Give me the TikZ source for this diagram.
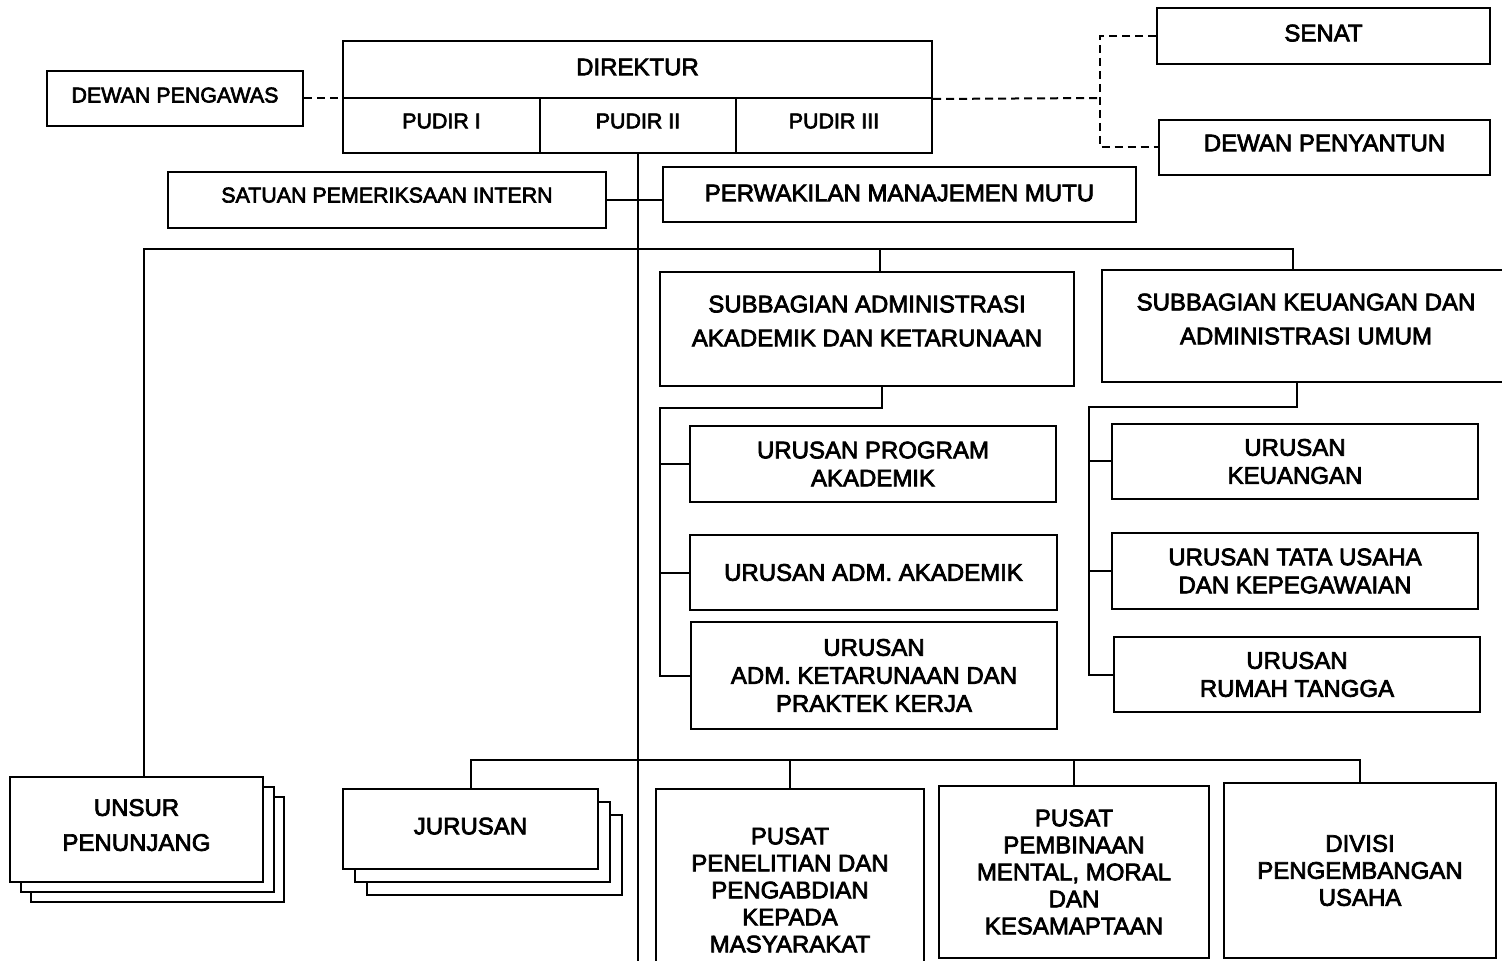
\documentclass[tikz,border=0pt]{standalone}
\usepackage{fontspec}
\setmainfont{Liberation Sans}[FakeBold=3]
\usetikzlibrary{calc}

\begin{document}
\begin{tikzpicture}[x=0.5pt, y=-0.5pt, line width=1pt,
  box/.style={draw, fill=white, inner sep=0pt, align=center, font=\fontsize{12}{14}\selectfont},
  smallbox/.style={box, font=\fontsize{10.7}{13}\selectfont},
  lift/.style={text depth=#1},
  dashline/.style={dash pattern=on 4pt off 2.5pt}]
  \useasboundingbox (0,0) rectangle (1502,961);
  \clip (0,0) rectangle (1502,961);
  % pimpinan
  \node[box, minimum width=294.5pt, minimum height=28.5pt, lift=2.5pt] (dir) at (637.5,69.5) {DIREKTUR};
  \node[smallbox, minimum width=98.5pt, minimum height=27.5pt, lift=4.5pt] (p1) at (441.5,125.5) {PUDIR I};
  \node[smallbox, minimum width=98pt, minimum height=27.5pt, lift=4.5pt] (p2) at (638,125.5) {PUDIR II};
  \node[smallbox, minimum width=98pt, minimum height=27.5pt, lift=4.5pt] (p3) at (834,125.5) {PUDIR III};
  \node[smallbox, minimum width=128pt, minimum height=27.5pt, lift=3.5pt] (dp) at (175,98.5) {DEWAN PENGAWAS};
  \node[box, minimum width=166.5pt, minimum height=28pt, lift=3pt] (senat) at (1323.5,36) {SENAT};
  \node[box, minimum width=165.5pt, minimum height=27.5pt, lift=4.5pt] (penyantun) at (1324.5,147.5) {DEWAN PENYANTUN};
  \node[smallbox, minimum width=219pt, minimum height=28pt, lift=5pt] (satuan) at (387,200) {SATUAN PEMERIKSAAN INTERN};
  \node[box, minimum width=236.5pt, minimum height=27.5pt, lift=1.5pt] (pmm) at (899.5,194.5) {PERWAKILAN MANAJEMEN MUTU};
  % subbagian
  \node[box, font=\fontsize{12}{17}\selectfont, minimum width=207pt, minimum height=57pt, lift=8pt] (subadm) at (867,329)
    {SUBBAGIAN ADMINISTRASI\\AKADEMIK DAN KETARUNAAN};
  \node[box, font=\fontsize{12}{17}\selectfont, minimum width=204pt, minimum height=56pt, lift=7pt] (subkeu) at (1306,326)
    {SUBBAGIAN KEUANGAN DAN\\ADMINISTRASI UMUM};
  % urusan
  \node[box, minimum width=183pt, minimum height=38pt] (upa) at (873,464) {URUSAN PROGRAM\\AKADEMIK};
  \node[box, minimum width=183.5pt, minimum height=37.5pt] (uaa) at (873.5,572.5) {URUSAN ADM. AKADEMIK};
  \node[box, minimum width=183pt, minimum height=53.5pt] (uak) at (874,675.5) {URUSAN\\ADM. KETARUNAAN DAN\\PRAKTEK KERJA};
  \node[box, minimum width=183pt, minimum height=37.5pt] (ukeu) at (1295,461.5) {URUSAN\\KEUANGAN};
  \node[box, minimum width=183pt, minimum height=38pt] (utu) at (1295,571) {URUSAN TATA USAHA\\DAN KEPEGAWAIAN};
  \node[box, minimum width=183pt, minimum height=37.5pt] (urt) at (1297,674.5) {URUSAN\\RUMAH TANGGA};
  % unsur penunjang dan jurusan
  \node[box, minimum width=126.5pt, minimum height=52.5pt] (u3) at (157.5,849.5) {};
  \node[box, minimum width=126.5pt, minimum height=52.5pt] (u2) at (147,839.5) {};
  \node[box, font=\fontsize{12}{17.5}\selectfont, minimum width=126.5pt, minimum height=52.5pt, lift=4.5pt] (u1) at (136.5,829.5)
    {UNSUR\\PENUNJANG};
  \node[box, minimum width=127.5pt, minimum height=40pt] (j3) at (494.5,855) {};
  \node[box, minimum width=127.5pt, minimum height=40pt] (j2) at (482.5,842) {};
  \node[box, minimum width=127.5pt, minimum height=40pt, lift=3pt] (j1) at (470.5,829) {JURUSAN};
  % pusat dan divisi
  \node[box, font=\fontsize{12}{13.5}\selectfont, minimum width=134pt, minimum height=101pt, lift=-3pt] (ppm) at (790,890)
    {PUSAT\\PENELITIAN DAN\\PENGABDIAN\\KEPADA\\MASYARAKAT};
  \node[box, font=\fontsize{12}{13.5}\selectfont, minimum width=135pt, minimum height=86pt] (pmb) at (1074,872)
    {PUSAT\\PEMBINAAN\\MENTAL, MORAL\\DAN\\KESAMAPTAAN};
  \node[box, font=\fontsize{12}{13.5}\selectfont, minimum width=136pt, minimum height=87.5pt] (div) at (1360,870.5)
    {DIVISI\\PENGEMBANGAN\\USAHA};

  % garis koordinasi
  \coordinate (dj) at (1100,98);
  \draw[dashline] (dp.east) -- (dp.east -| p1.west);
  \draw[dashline] (dir.south east) -- (dj);
  \draw[dashline] (senat.west) -| (dj) |- (penyantun.west);

  % garis komando
  \coordinate (trunkend) at (638,990);
  \coordinate (tbar) at (638,249);
  \coordinate (lbus) at (660,408);
  \coordinate (rbus) at (1089,407);
  \coordinate (bbar) at (638,760);
  \draw (p2.south) -- (trunkend);
  \draw (satuan.east) -- (satuan.east -| pmm.west);
  \draw ([xshift=3.75pt]u1.north) |- (tbar) -| ([xshift=-6.5pt]subkeu.north);
  \draw ([xshift=6.5pt]subadm.north) -- ([xshift=6.5pt]subadm.north |- tbar);
  \draw ([xshift=7.5pt]subadm.south) |- (lbus) -- (lbus |- uak.west) -- (uak.west);
  \draw (lbus |- upa.west) -- (upa.west);
  \draw (lbus |- uaa.west) -- (uaa.west);
  \draw ([xshift=-4.5pt]subkeu.south) |- (rbus) -- (rbus |- urt.west) -- (urt.west);
  \draw (rbus |- ukeu.west) -- (ukeu.west);
  \draw (rbus |- utu.west) -- (utu.west);
  \draw (j1.north) |- (bbar) -| (div.north);
  \draw (ppm.north) -- (ppm.north |- bbar);
  \draw (pmb.north) -- (pmb.north |- bbar);
\end{tikzpicture}
\end{document}
